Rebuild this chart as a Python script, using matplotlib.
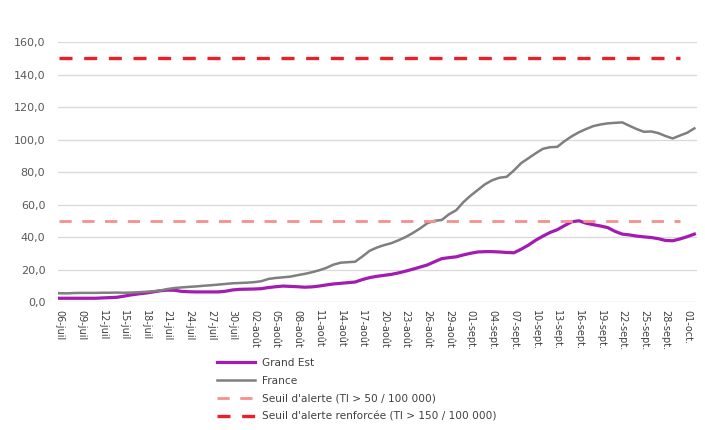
import matplotlib
matplotlib.use("Agg")
import matplotlib.pyplot as plt
import numpy as np

# taux d'incidence glissant, du 06-juil au 02-oct (un point par jour)
grand_est = [2.3, 2.3, 2.3, 2.3, 2.3, 2.3, 2.5, 2.7, 2.9, 3.6,
             4.4, 5.0, 5.5, 6.2, 6.9, 7.3, 7.2, 6.5, 6.3, 6.2,
             6.2, 6.2, 6.2, 6.6, 7.4, 7.8, 7.9, 8.0, 8.2, 8.9,
             9.4, 9.8, 9.6, 9.4, 9.1, 9.3, 9.8, 10.5, 11.1, 11.5,
             11.9, 12.3, 13.8, 15.0, 15.8, 16.4, 17.0, 17.9, 19.0, 20.2,
             21.5, 22.8, 24.8, 26.7, 27.3, 27.8, 29.0, 30.0, 30.8, 31.0,
             31.0, 30.8, 30.5, 30.3, 32.5, 35.0, 38.0, 40.5, 42.8, 44.5,
             47.0, 49.4, 50.0, 48.5, 47.6, 46.8, 45.8, 43.5, 41.8, 41.3,
             40.6, 40.1, 39.7, 39.0, 37.9, 37.7, 38.8, 40.2, 41.8]
france = [5.4, 5.3, 5.5, 5.6, 5.6, 5.6, 5.7, 5.7, 5.8, 5.7,
          5.8, 6.0, 6.3, 6.6, 7.0, 8.0, 8.6, 9.0, 9.3, 9.6,
          10.0, 10.3, 10.7, 11.1, 11.5, 11.7, 11.9, 12.2, 12.8, 14.2,
          14.8, 15.2, 15.6, 16.5, 17.3, 18.3, 19.5, 21.0, 23.0, 24.2,
          24.5, 24.8, 28.0, 31.5, 33.5, 35.0, 36.2, 38.0, 40.0, 42.5,
          45.3, 48.5, 50.0, 50.5, 54.0, 56.5, 61.5, 65.5, 69.0, 72.5,
          75.0, 76.5, 77.1, 81.0, 85.5, 88.5, 91.5, 94.3, 95.3, 95.5,
          99.0, 102.0, 104.5, 106.5, 108.3, 109.3, 110.0, 110.3, 110.6, 108.5,
          106.5, 104.8, 105.0, 104.0, 102.2, 100.7, 102.5, 104.2, 106.9]
seuil_alerte = 50
seuil_renforce = 150
seuil_fin = 86  # les seuils s'arretent au 30-sept

tick_labels = ["06-juil", "09-juil", "12-juil", "15-juil", "18-juil", "21-juil",
               "24-juil", "27-juil", "30-juil", "02-août", "05-août", "08-août",
               "11-août", "14-août", "17-août", "20-août", "23-août", "26-août",
               "29-août", "01-sept.", "04-sept.", "07-sept.", "10-sept.", "13-sept.",
               "16-sept.", "19-sept.", "22-sept.", "25-sept.", "28-sept.", "01-oct."]

days = np.arange(len(france))

fig = plt.figure(figsize=(7.05, 4.30), dpi=100)
ax = fig.add_axes([0.082, 0.2977, 0.907, 0.6043])

for y in range(20, 161, 20):
    ax.axhline(y, color="#d9d9d9", lw=0.9, zorder=0)
ax.axhline(0, color="#d9d9d9", lw=1.0, zorder=0)

l_ge, = ax.plot(days, grand_est, color="#a21caf", lw=2.3, label="Grand Est")
l_fr, = ax.plot(days, france, color="#7f7f7f", lw=1.8, label="France")
l_sa, = ax.plot([days[0], days[seuil_fin]], [seuil_alerte, seuil_alerte],
                color="#f4908e", lw=2.0, ls=(0, (4.4, 3.8)),
                label="Seuil d'alerte (TI > 50 / 100 000)")
l_sr, = ax.plot([days[0], days[seuil_fin]], [seuil_renforce, seuil_renforce],
                color="#e8202a", lw=2.4, ls=(0, (3.9, 3.5)),
                label="Seuil d'alerte renforcée (TI > 150 / 100 000)")

ax.set_xlim(-0.2, 88.4)
ax.set_ylim(0, 160)
ax.set_yticks(range(0, 161, 20))
ax.set_yticklabels([f"{v},0" for v in range(0, 161, 20)],
                   fontsize=8, color="#595959")
ax.set_xticks(days[::3])
ax.set_xticklabels(tick_labels, rotation=270, fontsize=7, color="#404040",
                   family=["Liberation Sans Narrow", "DejaVu Sans"])
ax.tick_params(axis="x", length=0, pad=6)
ax.tick_params(axis="y", length=0, pad=9)
for s in ax.spines.values():
    s.set_visible(False)

leg = fig.legend(handles=[l_ge, l_fr, l_sa, l_sr], loc="upper left",
                 bbox_to_anchor=(0.295, 0.19), frameon=False, fontsize=7.6,
                 handlelength=3.6, labelspacing=0.75, handletextpad=0.6)
for t in leg.get_texts():
    t.set_color("#404040")

fig.savefig("out.png", dpi=100)
